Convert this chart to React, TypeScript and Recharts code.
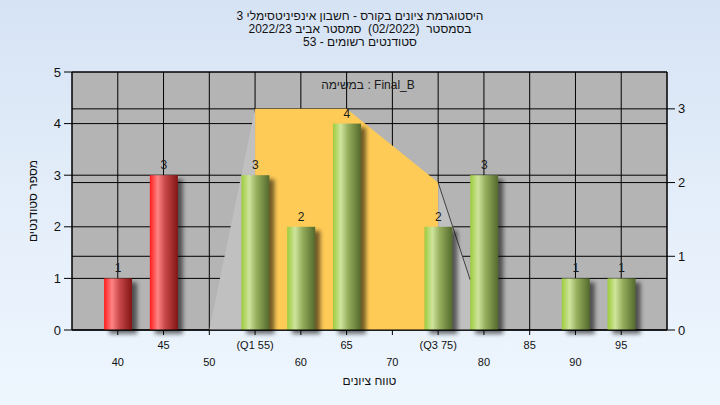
import React from "react";
import {
  ComposedChart, Bar, Area, XAxis, YAxis, CartesianGrid, LabelList, Cell,
} from "recharts";

const scores = [40, 45, 50, 55, 60, 65, 70, 75, 80, 85, 90, 95];
const counts = [1, 3, 0, 3, 2, 4, 0, 2, 3, 0, 1, 1];
const tickLabels = ["40", "45", "50", "(Q1 55)", "60", "65", "70", "(Q3 75)", "80", "85", "90", "95"];

// right-axis band: lower tail, inter-quartile part, upper tail
const lowTailX = [50, 55];
const lowTailY = [0, 3];
const iqrX = [55, 65, 75];
const iqrY = [3, 3, 2];
const highTailX = [75, 78.5];
const highTailY = [2, 0.68];

const titleLines = [
  "היסטוגרמת ציונים בקורס - חשבון אינפיניטסימלי 3",
  "בסמסטר  (02/2022)  סמסטר אביב 2022/23",
  "סטודנטים רשומים - 53",
];
const taskLabel = "במשימה : Final_B";
const xTitle = "טווח ציונים";
const yTitle = "מספר סטודנטים";

const FONT = "'Liberation Sans', Arial, sans-serif";
const BAR_W = 28;

const barData = scores.map((s, i) => ({ score: s, count: counts[i], label: tickLabels[i] }));
const toPts = (xs: number[], ys: number[]) => xs.map((x, i) => ({ score: x, v: ys[i] }));
const lowTail = toPts(lowTailX, lowTailY);
const iqr = toPts(iqrX, iqrY);
const highTail = toPts(highTailX, highTailY);

// cylinder-look bar, widened around the centre the scale gives
const CylBar = (props: any) => {
  const { x, y, width, height, payload } = props;
  if (!height || height <= 0) return null;
  const cx = x + width / 2;
  const bx = cx - BAR_W / 2;
  const grad = payload.score < 50 ? "url(#redCyl)" : "url(#greenCyl)";
  return (
    <g>
      <rect x={bx + 5} y={y + 4} width={BAR_W} height={height} fill="#000" opacity={0.55} filter="url(#shadowBlur)" />
      <rect x={bx} y={y} width={BAR_W} height={height} fill={grad} />
    </g>
  );
};

const XTick = ({ x, y, payload }: any) => {
  const i = scores.indexOf(payload.value);
  const lower = i % 2 === 0;
  return (
    <text x={x} y={y + (lower ? 29 : 12)} textAnchor="middle" fontSize={11} fill="#111" fontFamily={FONT}>
      {tickLabels[i] ?? payload.value}
    </text>
  );
};

const BarLabel = (props: any) => {
  const { x, y, width, value } = props;
  if (!value) return null;
  return (
    <text x={x + width / 2} y={y - 6} textAnchor="middle" fontSize={12} fill="#1a1a1a" fontFamily={FONT}>
      {value}
    </text>
  );
};

export default function App() {
  return (
    <div
      style={{
        position: "absolute", left: 0, top: 0, width: 720, height: 405,
        background: "linear-gradient(180deg, #d6e3f4 0%, #e4eefa 50%, #eef6fe 100%)",
        fontFamily: FONT, overflow: "hidden",
      }}
    >
      <div style={{ position: "absolute", top: 10, left: 0, width: 720, textAlign: "center", direction: "rtl", fontSize: 12, lineHeight: "13px", color: "#111" }}>
        {titleLines.map((t, i) => (
          <div key={i} style={{ whiteSpace: "pre" }}>{t}</div>
        ))}
      </div>
      <ComposedChart
        width={720}
        height={405}
        data={barData}
        margin={{ top: 72, right: 23, left: 42, bottom: 25 }}
        style={{ position: "absolute", left: 0, top: 0 }}
      >
        <defs>
          <linearGradient id="greenCyl" x1="0" y1="0" x2="1" y2="0">
            <stop offset="0%" stopColor="#9ccc3c" />
            <stop offset="28%" stopColor="#cfe49c" />
            <stop offset="55%" stopColor="#93ad5c" />
            <stop offset="100%" stopColor="#54692c" />
          </linearGradient>
          <linearGradient id="redCyl" x1="0" y1="0" x2="1" y2="0">
            <stop offset="0%" stopColor="#ff1c1c" />
            <stop offset="28%" stopColor="#ff8484" />
            <stop offset="55%" stopColor="#c84848" />
            <stop offset="100%" stopColor="#821414" />
          </linearGradient>
          <filter id="shadowBlur" x="-50%" y="-50%" width="200%" height="200%">
            <feGaussianBlur stdDeviation="2" />
          </filter>
        </defs>
        <CartesianGrid yAxisId="left" stroke="#000" strokeOpacity={1} fill="#b4b4b4" fillOpacity={1} />
        <CartesianGrid yAxisId="right" vertical={false} stroke="#000" strokeOpacity={1} />
        <XAxis
          dataKey="score"
          type="number"
          domain={[35, 100]}
          ticks={scores}
          interval={0}
          allowDecimals={false}
          height={50}
          tickSize={5}
          tickMargin={2}
          stroke="#000"
          tick={<XTick />}
          label={{ value: xTitle, position: "insideBottom", offset: -5, fontSize: 12, fill: "#111", fontFamily: FONT }}
        />
        <YAxis
          yAxisId="left"
          domain={[0, 5]}
          ticks={[0, 1, 2, 3, 4, 5]}
          width={30}
          tickSize={8}
          tickMargin={3}
          stroke="#000"
          tick={{ fontSize: 13, fill: "#111", fontFamily: FONT }}
          label={{ value: yTitle, angle: -90, position: "center", dx: -24, fontSize: 12, fill: "#111", fontFamily: FONT }}
        />
        <YAxis
          yAxisId="right"
          orientation="right"
          domain={[0, 3.5]}
          ticks={[0, 1, 2, 3]}
          width={30}
          tickSize={8}
          tickMargin={3}
          stroke="#000"
          tick={{ fontSize: 13, fill: "#111", fontFamily: FONT }}
        />
        <Area yAxisId="right" data={lowTail} dataKey="v" type="linear" stroke="none" fill="#c0c0c0" fillOpacity={1} isAnimationActive={false} dot={false} activeDot={false} />
        <Area yAxisId="right" data={iqr} dataKey="v" type="linear" stroke="none" fill="#fecb57" fillOpacity={1} isAnimationActive={false} dot={false} activeDot={false} />
        <Area yAxisId="right" data={highTail} dataKey="v" type="linear" stroke="#404040" strokeWidth={1} fill="#c0c0c0" fillOpacity={1} isAnimationActive={false} dot={false} activeDot={false} />
        <Bar yAxisId="left" dataKey="count" barSize={28} shape={<CylBar />} isAnimationActive={false}>
          {barData.map((d, i) => (
            <Cell key={i} fill={d.score < 50 ? "#e02020" : "#9ccc3c"} />
          ))}
          <LabelList dataKey="count" content={<BarLabel />} />
        </Bar>
      </ComposedChart>
      <div style={{ position: "absolute", left: 268, top: 78, width: 200, textAlign: "center", fontSize: 12, color: "#1a1a1a" }}>
        {taskLabel}
      </div>
    </div>
  );
}
